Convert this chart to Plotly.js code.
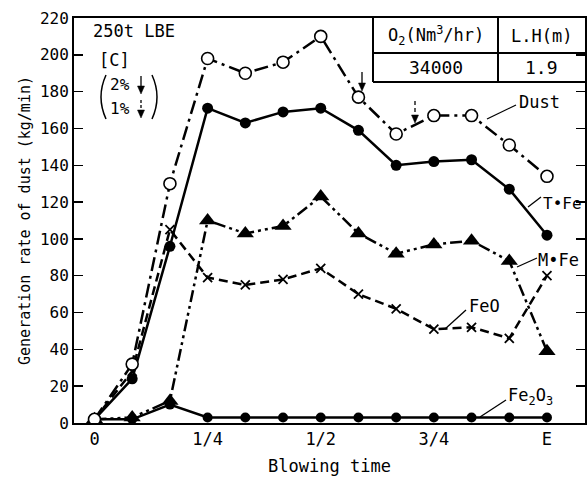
<!DOCTYPE html>
<html>
<head>
<meta charset="utf-8">
<script src="https://cdn.plot.ly/plotly-3.0.1.min.js"></script>
<style>html,body{margin:0;padding:0;background:#fff;}#chart{width:588px;height:479px;}</style>
</head>
<body>
<div id="chart"></div>
<script>
// ---- data ----
var blowingTime = [0, 0.0833, 0.1667, 0.25, 0.3333, 0.4167, 0.5, 0.5833, 0.6667, 0.75, 0.8333, 0.9167, 1.0];
var tickVals = [0, 0.25, 0.5, 0.75, 1.0];
var tickText = ['0', '1/4', '1/2', '3/4', 'E'];
var dust  = [2, 32, 130, 198, 190, 196, 210, 177, 157, 167, 167, 151, 134];
var tFe   = [2, 24, 96, 171, 163, 169, 171, 159, 140, 142, 143, 127, 102];
var mFe   = [2, 3, 12, 110, 103, 107, 123, 103, 92, 97, 99, 88, 39];
var feO   = [2, 28, 105, 79, 75, 78, 84, 70, 62, 51, 52, 46, 80];
var fe2o3 = [2, 2, 10, 3, 3, 3, 3, 3, 3, 3, 3, 3, 3];
var tableHeader = ['O<sub>2</sub>(Nm<sup>3</sup>/hr)', 'L.H(m)'];
var tableRow = ['34000', '1.9'];

// ---- layout geometry (pixels) ----
var W = 588, H = 479;
var M = {l: 74, r: 3, t: 18, b: 56};
var PW = W - M.l - M.r, PH = H - M.t - M.b;
function px(x) { return (x - M.l) / PW; }
function py(y) { return (H - M.b - y) / PH; }

var FONT = 'DejaVu Sans Mono, Liberation Mono, monospace';
var K = '#000';

var traces = [
  {x: blowingTime, y: fe2o3, mode: 'lines+markers', name: 'Fe2O3',
   line: {color: K, width: 2.5}, marker: {symbol: 'circle', size: 10, color: K}},
  {x: blowingTime, y: feO, mode: 'lines+markers', name: 'FeO',
   line: {color: K, width: 2.5, dash: '9px,5px'}, marker: {symbol: 'x-thin-open', size: 9, color: K, line: {width: 1.8, color: K}}},
  {x: blowingTime, y: mFe, mode: 'lines+markers', name: 'M.Fe',
   line: {color: K, width: 2.5, dash: '12px,4px,3px,4px,3px,4px'}, marker: {symbol: 'triangle-up', size: 15, color: K}},
  {x: blowingTime, y: tFe, mode: 'lines+markers', name: 'T.Fe',
   line: {color: K, width: 2.5}, marker: {symbol: 'circle', size: 11, color: K}},
  {x: blowingTime, y: dust, mode: 'lines+markers', name: 'Dust',
   line: {color: K, width: 2.5, dash: '14px,5px,3px,5px'}, marker: {symbol: 'circle', size: 12, color: '#fff', line: {color: K, width: 1.6}}}
];

function txt(t, x, y, size, xanchor) {
  return {text: t, xref: 'paper', yref: 'paper', x: px(x), y: py(y), showarrow: false,
          xanchor: xanchor || 'left', yanchor: 'middle', font: {family: FONT, size: size, color: K}};
}
function seg(x0, y0, x1, y1, w, dash) {
  return {type: 'line', xref: 'paper', yref: 'paper', x0: px(x0), y0: py(y0), x1: px(x1), y1: py(y1),
          line: {color: K, width: w || 1.5, dash: dash || 'solid'}};
}
function head(x, y) {
  return {type: 'path', xref: 'paper', yref: 'paper',
          path: 'M ' + px(x - 3.5) + ',' + py(y - 8) + ' L ' + px(x + 3.5) + ',' + py(y - 8) + ' L ' + px(x) + ',' + py(y) + ' Z',
          fillcolor: K, line: {color: K, width: 0.5}};
}

var annotations = [
  txt('250t LBE', 91, 31, 17),
  txt('[C]', 97, 60, 17),
  txt('2%', 108, 84, 16),
  txt('1%', 108, 108, 16),
  txt(tableHeader[0], 435.5, 36, 17, 'center'),
  txt(tableHeader[1], 541.5, 36, 17, 'center'),
  txt(tableRow[0], 435.5, 67, 18, 'center'),
  txt(tableRow[1], 541.5, 67, 18, 'center'),
  txt('Dust', 517, 102, 17),
  txt('T•Fe', 541, 203, 16),
  txt('M•Fe', 536, 260, 17),
  txt('FeO', 467, 306, 17),
  txt('Fe<sub>2</sub>O<sub>3</sub>', 506, 396, 17)
];

var shapes = [
  // parentheses
  {type: 'path', xref: 'paper', yref: 'paper',
   path: 'M ' + px(106) + ',' + py(75) + ' Q ' + px(96) + ',' + py(97) + ' ' + px(106) + ',' + py(119),
   line: {color: K, width: 1.5}},
  {type: 'path', xref: 'paper', yref: 'paper',
   path: 'M ' + px(152) + ',' + py(75) + ' Q ' + px(162) + ',' + py(97) + ' ' + px(152) + ',' + py(119),
   line: {color: K, width: 1.5}},
  // legend arrows
  seg(141, 76, 141, 88, 1.3), head(141, 94),
  seg(141, 100, 141, 112, 1.3, '3px,2px'), head(141, 118),
  // table
  seg(373, 18, 373, 82, 2),
  seg(498, 18, 498, 82, 2),
  seg(373, 53, 585, 53, 2),
  seg(373, 82, 585, 82, 2),
  // leader lines
  seg(516, 105, 487, 119, 1.3),
  seg(541, 197, 528, 207, 1.3),
  seg(537, 258, 517, 267, 1.3),
  seg(466, 310, 445, 329, 1.3),
  seg(506, 400, 480, 417, 1.3),
  // arrows in plot
  seg(362, 72, 362, 85, 1.3), head(362, 91),
  seg(415, 101, 415, 116, 1.3, '4px,3px'), head(415, 123)
];

var layout = {
  width: W, height: H,
  margin: M,
  paper_bgcolor: '#fff', plot_bgcolor: '#fff',
  showlegend: false,
  font: {family: FONT, color: K},
  xaxis: {
    range: [-0.0453, 1.084], tickvals: tickVals, ticktext: tickText,
    showgrid: false, zeroline: false, showline: true, mirror: true, linecolor: K, linewidth: 2,
    ticks: '', tickfont: {family: FONT, size: 17, color: K},
    title: {text: 'Blowing time', font: {family: FONT, size: 17, color: K}, standoff: 12}
  },
  yaxis: {
    range: [0, 220], dtick: 20, tick0: 0,
    showgrid: false, zeroline: false, showline: true, mirror: 'ticks', linecolor: K, linewidth: 2,
    ticks: 'inside', ticklen: 9, tickwidth: 1.5, tickcolor: K,
    tickfont: {family: FONT, size: 16, color: K},
    title: {text: 'Generation rate of dust (kg/min)', font: {family: FONT, size: 15, color: K}, standoff: 6}
  },
  annotations: annotations,
  shapes: shapes
};

Plotly.newPlot('chart', traces, layout, {displayModeBar: false, staticPlot: true});
</script>
</body>
</html>
